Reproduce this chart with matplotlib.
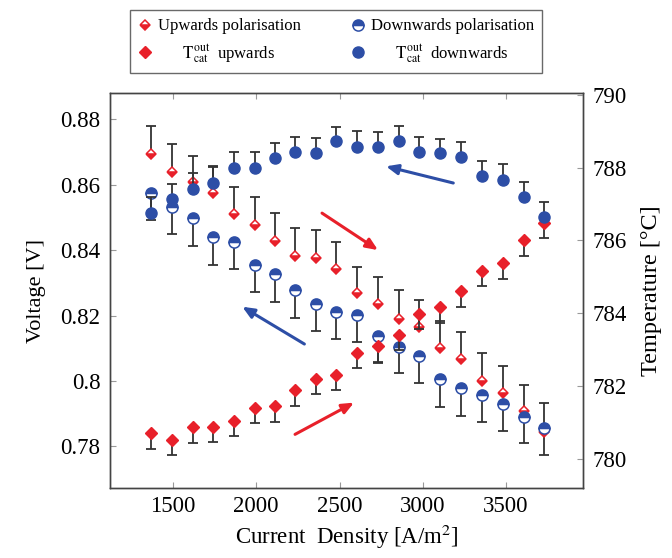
import numpy as np
import matplotlib
matplotlib.use("Agg")
import matplotlib.pyplot as plt

plt.rcParams['font.family'] = ['Liberation Serif', 'DejaVu Serif']
plt.rcParams['mathtext.fontset'] = 'stix'

# Datos
current = [1370, 1495, 1620, 1740, 1865, 1990, 2110, 2235, 2360, 2480,
           2605, 2730, 2855, 2980, 3105, 3230, 3355, 3480, 3605, 3730]

up_pol = [0.8695, 0.8639, 0.8609, 0.8573, 0.8510, 0.8478, 0.8428, 0.8383, 0.8377, 0.8341,
          0.8268, 0.8235, 0.8191, 0.8166, 0.8100, 0.8066, 0.8001, 0.7964, 0.7908, 0.7844]
up_pol_top = [0.8780, 0.8723, 0.8688, 0.8656, 0.8593, 0.8563, 0.8512, 0.8467, 0.8460, 0.8424,
              0.8349, 0.8317, 0.8277, 0.8247, 0.8184, 0.8149, 0.8085, 0.8047, 0.7989, 0.7934]

down_pol = [0.8573, 0.8532, 0.8497, 0.8439, 0.8425, 0.8355, 0.8326, 0.8278, 0.8235, 0.8212,
            0.8202, 0.8137, 0.8105, 0.8076, 0.8006, 0.7978, 0.7958, 0.7931, 0.7891, 0.7856]
down_pol_bot = [0.8492, 0.8448, 0.8413, 0.8356, 0.8342, 0.8271, 0.8242, 0.8194, 0.8154, 0.8128,
                0.8120, 0.8056, 0.8023, 0.7995, 0.7922, 0.7894, 0.7875, 0.7848, 0.7810, 0.7774]

t_up = [780.71, 780.52, 780.87, 780.89, 781.04, 781.41, 781.44, 781.88, 782.20, 782.31,
        782.92, 783.09, 783.41, 783.98, 784.17, 784.62, 785.17, 785.38, 786.00, 786.48]
t_up_bot = [780.27, 780.11, 780.45, 780.47, 780.63, 780.98, 781.01, 781.46, 781.77, 781.90,
            782.49, 782.66, 782.99, 783.56, 783.74, 784.18, 784.75, 784.95, 785.58, 786.06]

t_down = [786.75, 787.13, 787.42, 787.57, 787.99, 787.99, 788.26, 788.44, 788.40, 788.72,
          788.58, 788.56, 788.74, 788.43, 788.40, 788.28, 787.76, 787.66, 787.19, 786.64]
t_down_top = [787.19, 787.55, 787.85, 788.03, 788.42, 788.43, 788.69, 788.85, 788.81, 789.13,
              789.01, 788.98, 789.15, 788.85, 788.80, 788.70, 788.19, 788.09, 787.60, 787.07]

# flechas (inicio, fin) en coordenadas del eje de voltaje
arrows = [((2395, 0.8513), (2731, 0.8400), 'red'),
          ((2233, 0.7837), (2587, 0.7934), 'red'),
          ((3183, 0.8605), (2779, 0.8656), 'blue'),
          ((2289, 0.8113), (1916, 0.8227), 'blue')]

RED = '#e8202a'
BLUE = '#2d4ea6'
BAR = '#333333'

fig = plt.figure(figsize=(6.72, 5.58), dpi=100)
ax = fig.add_axes([0.1637, 0.1254, 0.7039, 0.7079])
ax2 = ax.twinx()


def barras(a, x, y, y2):
    a.vlines(x, y, y2, color=BAR, lw=1.3, zorder=2)
    a.plot(x, y2, ls='none', marker='_', ms=7, mew=1.3, color=BAR, zorder=2)


barras(ax, current, up_pol, up_pol_top)
barras(ax, current, down_pol, down_pol_bot)
barras(ax2, current, t_up, t_up_bot)
barras(ax2, current, t_down, t_down_top)

h1, = ax.plot(current, up_pol, ls='none', marker='D', ms=5.5, mec=RED, mfc=RED,
              fillstyle='bottom', markerfacecoloralt='white', mew=1.1, zorder=4,
              label='Upwards polarisation')
h2, = ax.plot(current, down_pol, ls='none', marker='o', ms=8, mec=BLUE, mfc=BLUE,
              fillstyle='top', markerfacecoloralt='white', mew=1.1, zorder=4,
              label='Downwards polarisation')
h3, = ax2.plot(current, t_up, ls='none', marker='D', ms=6, color=RED, zorder=4,
               label=r'      $\mathrm{T}_{\mathrm{cat}}^{\mathrm{out}}$  upwards')
h4, = ax2.plot(current, t_down, ls='none', marker='o', ms=8, color=BLUE, zorder=4,
               label=r'      $\mathrm{T}_{\mathrm{cat}}^{\mathrm{out}}$  downwards')

for (x0, y0), (x1, y1), c in arrows:
    col = RED if c == 'red' else BLUE
    ax.annotate('', xy=(x1, y1), xytext=(x0, y0),
                arrowprops=dict(arrowstyle='-|>,head_length=0.7,head_width=0.3',
                                color=col, lw=2.2, shrinkA=0, shrinkB=0), zorder=5)

ax.set_xlim(1122, 3962)
ax.set_ylim(0.7673, 0.888)
ax2.set_ylim(779.2, 790.05)

ax.set_xticks([1500, 2000, 2500, 3000, 3500])
ax.set_yticks([0.78, 0.8, 0.82, 0.84, 0.86, 0.88])
ax.set_yticklabels(['0.78', '0.8', '0.82', '0.84', '0.86', '0.88'])
ax2.set_yticks([780, 782, 784, 786, 788, 790])

ax.tick_params(axis='x', direction='in', top=True, length=4, color='#999999',
               labelsize=16.5, pad=6)
ax.tick_params(axis='y', direction='in', length=4, color='#999999', labelsize=16.5, pad=7)
ax2.tick_params(axis='y', direction='in', length=4, color='#999999', labelsize=16.5, pad=7)

for a in (ax, ax2):
    for s in a.spines.values():
        s.set_color('#444444')
        s.set_linewidth(1.0)

ax.set_xlabel(r'Current  Density [A/m$^2$]', fontsize=16.5, labelpad=4)
ax.set_ylabel('Voltage [V]', fontsize=16, labelpad=10)
ax2.set_ylabel('Temperature [°C]', fontsize=17.5, labelpad=10)

leg = fig.legend([h1, h3, h2, h4], [h1.get_label(), h3.get_label(), h2.get_label(), h4.get_label()],
                 loc='upper center', bbox_to_anchor=(0.5, 0.982), borderaxespad=0, ncol=2,
                 fontsize=12, frameon=True, fancybox=False, edgecolor='#444444',
                 handlelength=0.8, handletextpad=0.4, columnspacing=3.0, borderpad=0.5,
                 labelspacing=0.45)
leg.get_frame().set_linewidth(1.0)

fig.savefig('out.png', dpi=100)
